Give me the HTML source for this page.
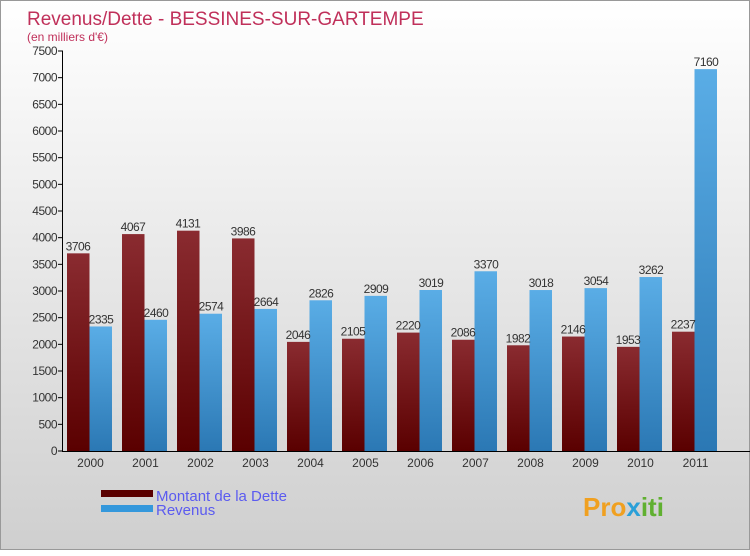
<!DOCTYPE html>
<html><head><meta charset="utf-8"><style>
body{margin:0;width:750px;height:550px;overflow:hidden;font-family:"Liberation Sans",sans-serif}
#c{position:absolute;left:0;top:0;width:748px;height:548px;border:1px solid #999;background:linear-gradient(#fff,#cfcfcf)}
</style></head><body>
<div id="c">
<svg id="s" width="750" height="550">
<defs>
<linearGradient id="gd" x1="0" y1="0" x2="0" y2="1"><stop offset="0" stop-color="#8a2b30"/><stop offset="1" stop-color="#5a0000"/></linearGradient>
<linearGradient id="gr" x1="0" y1="0" x2="0" y2="1"><stop offset="0" stop-color="#5aade6"/><stop offset="1" stop-color="#2b78b4"/></linearGradient>
</defs>
<text x="26" y="24" font-size="19" fill="#c0305a">Revenus/Dette - BESSINES-SUR-GARTEMPE</text>
<text x="26" y="40" font-size="12" fill="#c0305a">(en milliers d'€)</text>
<g id="bars"></g>
<g id="axes"></g>
<rect x="100" y="489" width="52" height="7" fill="#5a0000"/>
<rect x="100" y="504" width="52" height="7" fill="#3498dc"/>
<text x="155" y="500" font-size="15" fill="#5b5bf0">Montant de la Dette</text>
<text x="155" y="514" font-size="15" fill="#5b5bf0">Revenus</text>
<text x="582" y="515" font-size="26" font-weight="bold" fill="#f0a020">Pro<tspan fill="#2aa0d8">x</tspan><tspan fill="#60b030">iti</tspan></text>
</svg></div>
<script>
const years=["2000","2001","2002","2003","2004","2005","2006","2007","2008","2009","2010","2011"];
const dette=[3706,4067,4131,3986,2046,2105,2220,2086,1982,2146,1953,2237];
const revenus=[2335,2460,2574,2664,2826,2909,3019,3370,3018,3054,3262,7160];
const yTicks=[0,500,1000,1500,2000,2500,3000,3500,4000,4500,5000,5500,6000,6500,7000,7500];
const NS="http://www.w3.org/2000/svg";
const x0=62,x1=722,y0=450,yTop=50,yMax=7500;
const gw=(x1-x0)/years.length;
const Y=v=>y0-(v/yMax)*(y0-yTop);
function mk(t,a,p){const e=document.createElementNS(NS,t);for(const k in a)e.setAttribute(k,a[k]);p.appendChild(e);return e;}
const bars=document.getElementById('bars'),axes=document.getElementById('axes');
years.forEach((yr,i)=>{
  const gx=x0+i*gw;
  const d=mk('rect',{x:gx+4,y:Y(dette[i]),width:22.5,height:y0-Y(dette[i]),fill:'url(#gd)'},bars);
  
  
  const r=mk('rect',{x:gx+26.5,y:Y(revenus[i]),width:22.5,height:y0-Y(revenus[i]),fill:'url(#gr)'},bars);
  
  
  const t1=mk('text',{x:gx+15,y:Y(dette[i])-3,'font-size':12,fill:'#333','text-anchor':'middle','letter-spacing':'-0.5'},bars);t1.textContent=dette[i];
  
  
  const t2=mk('text',{x:gx+38,y:Y(revenus[i])-3,'font-size':12,fill:'#333','text-anchor':'middle','letter-spacing':'-0.5'},bars);t2.textContent=revenus[i];
  
  
  const xl=mk('text',{x:gx+gw/2,y:466,'font-size':12,fill:'#333','text-anchor':'middle'},axes);xl.textContent=yr;
  
  
});
yTicks.forEach(v=>{
  mk('line',{x1:57,x2:62,y1:Y(v),y2:Y(v),stroke:'#000'},axes);
  const t=mk('text',{x:56,y:Y(v)+4,'font-size':12,fill:'#333','text-anchor':'end','letter-spacing':'-0.5'},axes);t.textContent=v;
  
  
});
const ya=mk('line',{x1:61.5,x2:61.5,y1:yTop,y2:y0,stroke:'#000'},axes);


const xa=mk('line',{x1:61,x2:x1+28,y1:y0+0.5,y2:y0+0.5,stroke:'#000'},axes);


</script>
</body></html>
